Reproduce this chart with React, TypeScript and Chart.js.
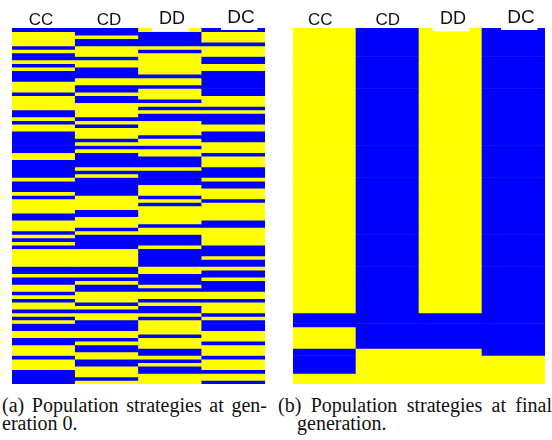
import { useEffect, useRef } from "react";
import { Chart, registerables } from "chart.js";

Chart.register(...registerables);

// Strategy columns and the colour for each state (1 = yellow, 0 = blue)
const strategies = ["CC", "CD", "DD", "DC"];
const YELLOW = "#ffff00";
const BLUE = "#0000ff";

// Population at generation 0, one entry per individual (100 rows)
const gen0CC = [
  0, 1, 1, 1, 1, 0, 1, 0, 0, 1,
  0, 1, 0, 0, 0, 1, 1, 1, 0, 1,
  1, 1, 1, 0, 0, 1, 0, 1, 1, 0,
  0, 0, 0, 0, 0, 1, 1, 0, 0, 0,
  0, 0, 1, 0, 0, 0, 1, 0, 1, 1,
  1, 1, 0, 0, 1, 1, 1, 0, 1, 0,
  1, 0, 1, 1, 1, 1, 1, 0, 0, 1,
  0, 0, 1, 1, 0, 1, 0, 1, 1, 0,
  1, 0, 1, 0, 0, 1, 1, 0, 0, 1,
  1, 1, 0, 1, 1, 1, 0, 0, 0, 0,
];
const gen0CD = [
  0, 0, 1, 0, 0, 1, 1, 1, 0, 1,
  1, 0, 0, 0, 1, 1, 0, 0, 1, 0,
  0, 1, 1, 1, 1, 0, 1, 0, 1, 1,
  1, 0, 1, 0, 1, 0, 0, 0, 0, 1,
  0, 1, 0, 0, 0, 0, 0, 1, 1, 1,
  1, 0, 0, 1, 1, 1, 0, 1, 0, 0,
  0, 0, 1, 1, 1, 1, 1, 0, 0, 1,
  0, 1, 0, 0, 1, 1, 1, 0, 1, 0,
  1, 1, 0, 0, 0, 1, 1, 0, 1, 0,
  0, 1, 1, 0, 0, 1, 1, 1, 0, 1,
];
const gen0DD = [
  1, 0, 0, 0, 0, 1, 0, 1, 1, 1,
  1, 1, 1, 0, 1, 1, 0, 1, 1, 1,
  0, 1, 0, 1, 0, 0, 1, 1, 1, 1,
  0, 1, 1, 0, 1, 1, 0, 0, 0, 1,
  0, 0, 0, 0, 1, 1, 1, 0, 1, 0,
  1, 1, 1, 1, 1, 0, 1, 1, 0, 0,
  0, 1, 0, 0, 0, 0, 0, 1, 1, 0,
  0, 0, 1, 0, 1, 1, 0, 1, 0, 0,
  1, 0, 1, 1, 1, 1, 0, 1, 1, 1,
  0, 0, 1, 0, 1, 0, 0, 1, 1, 1,
];
const gen0DC = [
  0, 1, 1, 1, 0, 1, 1, 1, 0, 0,
  1, 1, 0, 0, 0, 0, 0, 0, 0, 1,
  1, 1, 0, 1, 0, 0, 0, 1, 1, 0,
  0, 0, 1, 1, 1, 0, 1, 1, 1, 0,
  0, 0, 1, 0, 0, 1, 1, 1, 0, 1,
  1, 1, 1, 1, 0, 0, 1, 1, 1, 1,
  1, 0, 0, 0, 1, 0, 0, 1, 0, 0,
  1, 0, 0, 0, 1, 1, 0, 1, 1, 1,
  0, 1, 0, 0, 0, 1, 1, 1, 0, 1,
  1, 1, 0, 1, 1, 1, 0, 1, 1, 0,
];

// Population at the final generation
const finalCC = [
  1, 1, 1, 1, 1, 1, 1, 1, 1, 1,
  1, 1, 1, 1, 1, 1, 1, 1, 1, 1,
  1, 1, 1, 1, 1, 1, 1, 1, 1, 1,
  1, 1, 1, 1, 1, 1, 1, 1, 1, 1,
  1, 1, 1, 1, 1, 1, 1, 1, 1, 1,
  1, 1, 1, 1, 1, 1, 1, 1, 1, 1,
  1, 1, 1, 1, 1, 1, 1, 1, 1, 1,
  1, 1, 1, 1, 1, 1, 1, 1, 1, 1,
  0, 0, 0, 0, 1, 1, 1, 1, 1, 1,
  0, 0, 0, 0, 0, 0, 0, 1, 1, 1,
];
const finalCD = [
  0, 0, 0, 0, 0, 0, 0, 0, 0, 0,
  0, 0, 0, 0, 0, 0, 0, 0, 0, 0,
  0, 0, 0, 0, 0, 0, 0, 0, 0, 0,
  0, 0, 0, 0, 0, 0, 0, 0, 0, 0,
  0, 0, 0, 0, 0, 0, 0, 0, 0, 0,
  0, 0, 0, 0, 0, 0, 0, 0, 0, 0,
  0, 0, 0, 0, 0, 0, 0, 0, 0, 0,
  0, 0, 0, 0, 0, 0, 0, 0, 0, 0,
  0, 0, 0, 0, 0, 0, 0, 0, 0, 0,
  1, 1, 1, 1, 1, 1, 1, 1, 1, 1,
];
const finalDD = [
  1, 1, 1, 1, 1, 1, 1, 1, 1, 1,
  1, 1, 1, 1, 1, 1, 1, 1, 1, 1,
  1, 1, 1, 1, 1, 1, 1, 1, 1, 1,
  1, 1, 1, 1, 1, 1, 1, 1, 1, 1,
  1, 1, 1, 1, 1, 1, 1, 1, 1, 1,
  1, 1, 1, 1, 1, 1, 1, 1, 1, 1,
  1, 1, 1, 1, 1, 1, 1, 1, 1, 1,
  1, 1, 1, 1, 1, 1, 1, 1, 1, 1,
  0, 0, 0, 0, 0, 0, 0, 0, 0, 0,
  1, 1, 1, 1, 1, 1, 1, 1, 1, 1,
];
const finalDC = [
  0, 0, 0, 0, 0, 0, 0, 0, 0, 0,
  0, 0, 0, 0, 0, 0, 0, 0, 0, 0,
  0, 0, 0, 0, 0, 0, 0, 0, 0, 0,
  0, 0, 0, 0, 0, 0, 0, 0, 0, 0,
  0, 0, 0, 0, 0, 0, 0, 0, 0, 0,
  0, 0, 0, 0, 0, 0, 0, 0, 0, 0,
  0, 0, 0, 0, 0, 0, 0, 0, 0, 0,
  0, 0, 0, 0, 0, 0, 0, 0, 0, 0,
  0, 0, 0, 0, 0, 0, 0, 0, 0, 0,
  0, 0, 1, 1, 1, 1, 1, 1, 1, 1,
];

// Header label styling: font size and baseline per strategy
const labelSizes = [17, 17, 18, 19];
const labelBaselines = [25, 25, 24, 23];
const labelNotch = [false, false, true, true];

type PanelProps = {
  columns: number[][];
  left: number;
  padding: { left: number; right: number; top: number; bottom: number };
  labelShift: number[];
};

const CANVAS_W = 276;
const CANVAS_H = 390;

function StrategyPanel({ columns, left, padding, labelShift }: PanelProps) {
  const ref = useRef<HTMLCanvasElement | null>(null);

  useEffect(() => {
    if (!ref.current) return;
    const rows = columns[0].length;

    // One stacked dataset per individual; each column cell is coloured by its state
    const datasets = Array.from({ length: rows }, (_, r) => ({
      label: `individual ${r + 1}`,
      data: columns.map(() => 1),
      backgroundColor: columns.map((col) => (col[r] ? YELLOW : BLUE)),
      borderWidth: 0,
      barPercentage: 1,
      categoryPercentage: 1,
    }));

    const headerPlugin = {
      id: "strategyHeader",
      afterDatasetsDraw(chart: any) {
        const { ctx, scales } = chart;
        const x = scales.x;
        ctx.save();
        strategies.forEach((name, i) => {
          const cx = x.getPixelForValue(i) + labelShift[i];
          if (labelNotch[i]) {
            ctx.fillStyle = "#ffffff";
            ctx.fillRect(cx - 20, 0, 36.5, labelBaselines[i] + (i === 2 ? 7.5 : 7));
          }
          ctx.fillStyle = "#111111";
          ctx.font = `${labelSizes[i]}px "Liberation Sans", Arial, sans-serif`;
          ctx.textAlign = "center";
          ctx.textBaseline = "alphabetic";
          ctx.fillText(name, cx, labelBaselines[i]);
        });
        ctx.restore();
      },
    };

    const chart = new Chart(ref.current, {
      type: "bar",
      data: { labels: strategies, datasets },
      options: {
        animation: false,
        responsive: false,
        layout: { padding },
        plugins: {
          legend: { display: false },
          tooltip: { enabled: false },
        },
        scales: {
          x: { type: "category", stacked: true, display: false },
          y: { stacked: true, display: false, min: 0, max: rows, reverse: true },
        },
      },
      plugins: [headerPlugin],
    });
    return () => chart.destroy();
  }, [columns, padding, labelShift]);

  return (
    <canvas
      ref={ref}
      width={CANVAS_W}
      height={CANVAS_H}
      style={{ position: "absolute", left, top: 0, width: CANVAS_W, height: CANVAS_H }}
    />
  );
}

const captionFont: React.CSSProperties = {
  position: "absolute",
  fontFamily: '"Liberation Serif", "Times New Roman", serif',
  fontSize: 20,
  lineHeight: "20px",
  color: "#111",
  whiteSpace: "nowrap",
};

const gen0Columns = [gen0CC, gen0CD, gen0DD, gen0DC];
const finalColumns = [finalCC, finalCD, finalDD, finalDC];
const padA = { left: 12, right: 11, top: 28, bottom: 6 };
const padB = { left: 17, right: 7, top: 28, bottom: 6 };
const shiftA = [-2.6, 2.1, 1.9, 7.6];
const shiftB = [-4.3, 0.2, 2.5, 7.5];

export default function App() {
  return (
    <div
      style={{
        position: "fixed",
        left: 0,
        top: 0,
        width: 552,
        height: 440,
        background: "#fff",
        overflow: "hidden",
      }}
    >
      <StrategyPanel columns={gen0Columns} left={0} padding={padA} labelShift={shiftA} />
      <StrategyPanel columns={finalColumns} left={276} padding={padB} labelShift={shiftB} />
      <div
        style={{
          ...captionFont,
          left: 2,
          top: 395,
          width: 265,
          textAlign: "justify",
          textAlignLast: "justify",
          whiteSpace: "normal",
        }}
      >
        (a) Population strategies at gen-
      </div>
      <div style={{ ...captionFont, left: 2, top: 412.5 }}>eration 0.</div>
      <div
        style={{
          ...captionFont,
          left: 278,
          top: 395,
          width: 274,
          textAlign: "justify",
          textAlignLast: "justify",
          whiteSpace: "normal",
        }}
      >
        (b) Population strategies at final
      </div>
      <div style={{ ...captionFont, left: 297, top: 412.5 }}>generation.</div>
    </div>
  );
}
